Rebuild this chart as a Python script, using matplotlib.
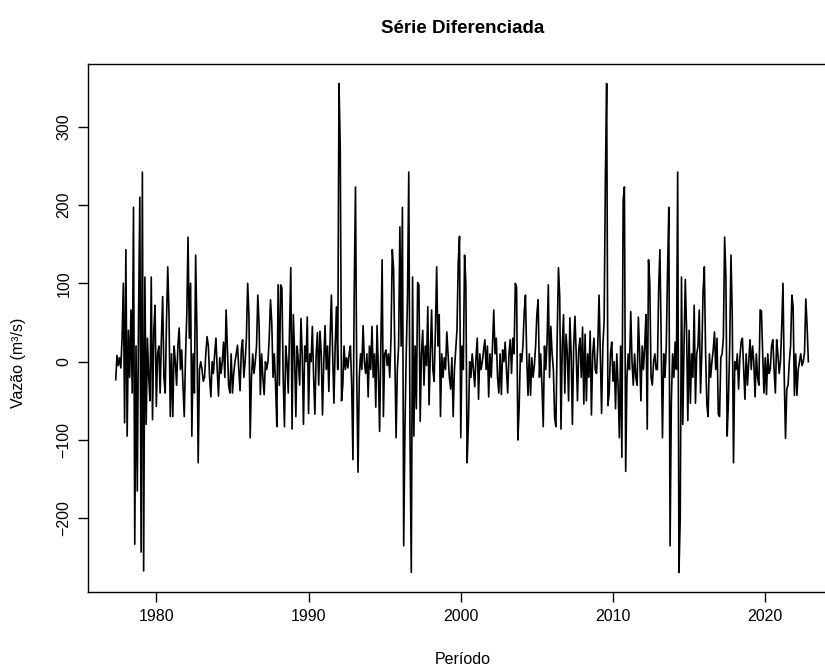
import numpy as np
import matplotlib
matplotlib.use("Agg")
import matplotlib.pyplot as plt

plt.rcParams["font.family"] = ["Liberation Sans", "DejaVu Sans"]

# Differenced monthly flow series, first value at May 1977
start_year = 1977 + 4 / 12

# May 1977 - Dec 1991
diff_a = [
    -23, 8, -5, 5, -8, 30, 100, -78, 143, -95,
    40, -20, 66, -40, 197, -233, 20, -165, 60, 210,
    -243, 242, -267, 108, -80, 30, -20, -50, 108, -74,
    40, 72, -57, 10, 20, -40, 30, 83, -20, -40,
    50, 121, 60, -70, 10, -70, 20, 0, -30, 20,
    43, -10, 15, -30, -70, 5, 60, 159, 30, 100,
    -95, 10, -40, 136, 40, -129, -10, 0, -10, -25,
    -20, 10, 32, 20, -20, -45, 0, -15, 10, 30,
    -10, -44, 5, -15, 0, 25, -20, 66, 20, -30,
    -40, 10, -40, -15, 0, 10, 21, -10, -37, 15,
    28, -20, 0, 30, 100, 60, -97, -20, 10, -15,
    0, 20, 85, 47, -42, 10, -20, -42, 0, -10,
    0, 30, 79, 50, -20, 10, -30, -83, 98, -30,
    98, 94, -20, -83, 20, 0, -40, 40, 120, -86,
    60, 10, -70, 20, 0, -30, 55, 10, -80, 20,
    0, 57, -66, 10, 0, 45, -20, -67, 10, 37,
    -30, 39, 10, -68, 0, 46, -10, 20, -38, 30,
    85, 10, -53, 20, 70, -10,
]

# 1992 - mid 2009
diff_b = [
    355, 272, -50, -30, 20, -10, 5, -8, 10, 20,
    -30, -125, 89, 223, -20, -141, -20, 10, -10, 46,
    0, -15, 10, -45, 20, -10, 45, -20, 10, -58,
    46, -10, -89, 20, 130, -70, 10, 15, -5, 10,
    -20, 30, 143, 120, 10, -97, -10, 20, 172, 20,
    197, -235, -83, 10, 82, 242, -100, -269, 108, -95,
    20, -60, 101, 98, -76, 10, 40, -30, 20, -5,
    70, -55, 10, 66, -10, -25, 40, 121, 20, 60,
    -70, 10, -20, 5, -10, 38, 10, -20, -35, 5,
    -70, -10, 15, 40, 126, 160, -97, 20, -10, 136,
    100, -129, -80, 0, -20, 10, -10, -32, 5, 30,
    -48, 10, -10, 0, 15, 28, -10, 20, -45, 10,
    -20, 20, 66, 10, 30, -20, -40, 10, -42, 15,
    0, 25, -10, -40, 10, 28, -15, 30, 10, 100,
    95, -100, -60, 10, 0, 20, 63, 85, 5, -43,
    10, -43, 5, -20, -5, 20, 61, 79, -20, 10,
    -30, -83, 20, -10, 25, 98, -20, 45, 10, -10,
    -72, -83, 30, 120, 83, -86, 20, 60, -40, 35,
    10, -50, 56, 10, -80, 20, 58, 10, -50, 15,
    30, -20, 44, -54, 35, -50, 10, -20, 39, -68,
    10, 30, -10, -15, 20, 85, 10, -66, 20, 51,
    234,
]

# mid 2009 - end 2022
diff_c = [
    355, -56, -40, 10, 25, -25, 0, -60, 10, -30,
    -97, 20, -122, 206, 223, -140, -20, 10, -10, 64,
    0, -30, 10, -20, -30, 57, 10, -50, 20, -10,
    20, 60, -86, 130, 100, -20, -30, 0, 10, -10,
    -10, 94, 143, 20, -97, 10, -20, 20, 115, 197,
    -235, -50, 10, -20, 25, -10, 242, -269, -200, 108,
    -80, 20, 105, 40, -75, 40, -53, 10, -20, 72,
    -53, 10, 20, 66, -40, 10, 89, 121, 10, -55,
    -70, 10, -20, 0, 15, 38, -10, 30, -67, -70,
    5, 10, 30, 159, 108, -95, -50, 20, 136, 60,
    -129, 0, -10, 10, -35, 5, 25, 30, -10, -48,
    10, -30, 0, 28, -10, 20, 0, -45, 10, -20,
    -30, 66, 65, 10, -40, 5, -42, 10, -15, -10,
    20, 28, -10, -40, 28, 10, -15, 0, 44, 100,
    -20, -98, -35, -30, 0, 20, 85, 70, -43, 10,
    -43, -10, 0, 10, -5, 0, 12, 80, 46, 0,
]

values = np.array(diff_a + diff_b + diff_c, dtype=float)
time = start_year + np.arange(len(values)) / 12

fig = plt.figure(figsize=(8.25, 6.68), dpi=100)
ax = fig.add_axes([0.1067, 0.1138, 0.9067, 0.7904])
ax.plot(time, values, color="black", linewidth=1.2)

# R-style 4% padding on both axes
xr = time.max() - time.min()
ax.set_xlim(time.min() - 0.04 * xr, time.max() + 0.04 * xr)
yr = values.max() - values.min()
ax.set_ylim(values.min() - 0.04 * yr, values.max() + 0.04 * yr)

ax.set_xticks([1980, 1990, 2000, 2010, 2020])
ax.set_yticks([-200, -100, 0, 100, 200, 300])
ax.tick_params(direction="out", length=7, width=1.0, labelsize=11.5, pad=5)
for lbl in ax.get_yticklabels():
    lbl.set_rotation(90)
    lbl.set_va("center")
for s in ax.spines.values():
    s.set_linewidth(1.0)

fig.text(0.561, 0.958, "Série Diferenciada", ha="center", va="center",
         fontsize=13.5, fontweight="bold")
fig.text(0.561, 0.012, "Período", ha="center", va="center",
         fontsize=11.5, position=(0.561, 0.012 + 0.0))
fig.text(0.022, 0.457, "Vazão (m³/s)", ha="center", va="center",
         rotation=90, fontsize=11.5)

fig.savefig("out.png", dpi=100)
